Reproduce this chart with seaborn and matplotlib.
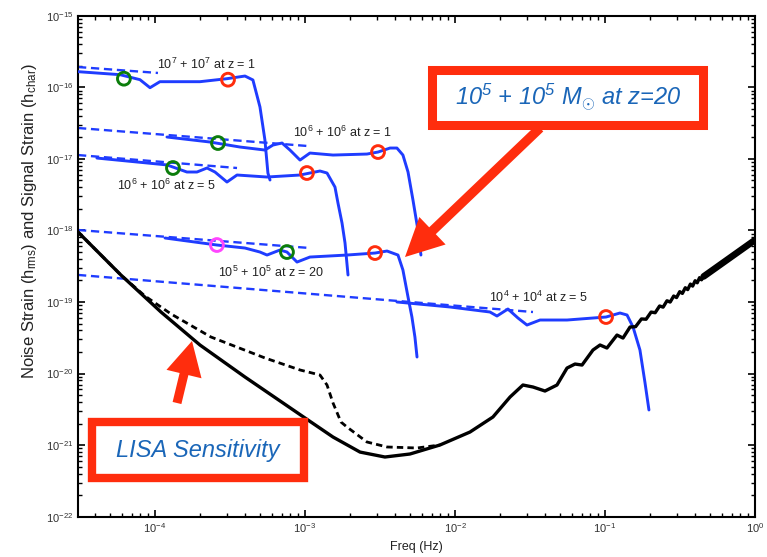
import numpy as np
import matplotlib
matplotlib.use("Agg")
import matplotlib.pyplot as plt
import seaborn as sns
from matplotlib.patches import Rectangle, FancyArrow

# ---------------- data (log10 of frequency [Hz] and strain) ----------------
# LISA sensitivity (solid black)
lisa_logf = [-4.513, -4.227, -3.96, -3.70, -3.40, -2.98, -2.813, -2.633, -2.467, -2.30,
             -2.10, -1.90, -1.747, -1.633, -1.547, -1.48, -1.40, -1.32, -1.253, -1.20,
             -1.153, -1.08, -1.033, -0.987, -0.92, -0.88, -0.833, -0.796, -0.757, -0.726,
             -0.6925, -0.6655, -0.636, -0.6126, -0.5867, -0.5654, -0.5421, -0.5229,
             -0.5017, -0.4841, -0.4647, -0.4486, -0.4306, -0.4157, -0.399, -0.385,
             -0.3696, -0.3565, -0.342]
lisa_logh = [-18.022, -18.623, -19.140, -19.601, -20.048, -20.649, -20.887, -21.097, -21.166, -21.124,
             -20.998, -20.817, -20.607, -20.328, -20.160, -20.188, -20.244, -20.160, -19.923, -19.867,
             -19.881, -19.671, -19.601, -19.643, -19.462, -19.504, -19.350, -19.345, -19.237, -19.241,
             -19.141, -19.150, -19.056, -19.072, -18.983, -19.001, -18.917, -18.938,
             -18.856, -18.880, -18.801, -18.827, -18.750, -18.778, -18.703, -18.732,
             -18.660, -18.690, -18.643]
# dense high-frequency part of the LISA curve
lisa_band_logf = [-0.342, 0.0]
lisa_band_logh = [-18.643, -18.134]

# LISA sensitivity variant (dashed black)
lisa2_logf = [-4.513, -4.227, -4.067, -3.893, -3.627, -3.267, -3.033, -2.90, -2.853, -2.813,
              -2.76, -2.72, -2.587, -2.453, -2.253, -2.10]
lisa2_logh = [-18.022, -18.623, -18.916, -19.167, -19.489, -19.782, -19.950, -20.020, -20.160, -20.411,
              -20.677, -20.747, -20.956, -21.026, -21.040, -20.998]

# 1e7 + 1e7 at z = 1
s7z1_logf = [-4.513, -4.233, -4.10, -4.033, -3.967, -3.70, -3.52, -3.40, -3.347, -3.30, -3.267, -3.247, -3.233]
s7z1_logh = [-15.782, -15.824, -15.894, -16.006, -15.922, -15.922, -15.880, -15.843, -15.898, -16.275, -16.736, -17.198, -17.296]
d7z1_logf = [-4.513, -3.98]
d7z1_logh = [-15.717, -15.80]

# 1e6 + 1e6 at z = 1
s6z1_logf = [-3.92, -3.633, -3.433, -3.267, -3.213, -3.153, -3.10, -3.033, -2.967, -2.813,
             -2.587, -2.513, -2.433, -2.387, -2.347, -2.313, -2.28, -2.247, -2.227]
s6z1_logh = [-16.695, -16.765, -16.835, -16.877, -16.807, -16.779, -16.877, -17.017, -16.919, -16.947,
             -16.933, -16.905, -16.849, -16.849, -16.947, -17.184, -17.576, -17.995, -18.344]
d6z1_logf = [-4.513, -2.98]
d6z1_logh = [-16.569, -16.821]

# 1e6 + 1e6 at z = 5
s6z5_logf = [-4.387, -3.92, -3.787, -3.72, -3.653, -3.60, -3.52, -3.453, -3.253, -3.033,
             -2.90, -2.853, -2.80, -2.78, -2.753, -2.733, -2.713]
s6z5_logh = [-16.989, -17.085, -17.184, -17.184, -17.128, -17.184, -17.324, -17.226, -17.254, -17.226,
             -17.170, -17.198, -17.394, -17.617, -17.897, -18.176, -18.623]
d6z5_logf = [-4.513, -3.453]
d6z5_logh = [-16.947, -17.128]

# 1e5 + 1e5 at z = 20
s5z20_logf = [-3.933, -3.587, -3.40, -3.30, -3.253, -3.167, -3.12, -3.053, -2.967, -2.72,
              -2.533, -2.453, -2.38, -2.347, -2.313, -2.287, -2.267, -2.253]
s5z20_logh = [-18.106, -18.204, -18.246, -18.302, -18.344, -18.274, -18.302, -18.442, -18.372, -18.344,
              -18.316, -18.288, -18.344, -18.553, -18.931, -19.210, -19.490, -19.769]
d5z20_logf = [-4.513, -2.967]
d5z20_logh = [-17.994, -18.246]

# 1e4 + 1e4 at z = 5
s4z5_logf = [-2.387, -2.033, -1.767, -1.72, -1.647, -1.58, -1.52, -1.433, -1.253, -1.08,
             -0.993, -0.90, -0.853, -0.813, -0.767, -0.733, -0.707]
s4z5_logh = [-19.000, -19.070, -19.140, -19.196, -19.098, -19.224, -19.322, -19.252, -19.252, -19.224,
             -19.210, -19.154, -19.182, -19.350, -19.671, -20.132, -20.509]
d4z5_logf = [-4.513, -1.48]
d4z5_logh = [-18.622, -19.14]

# circle markers
red_logf = [-3.513, -2.513, -2.987, -2.533, -0.993]
red_logh = [-15.894, -16.905, -17.198, -18.316, -19.210]
green_logf = [-4.207, -3.58, -3.88, -3.12]
green_logh = [-15.880, -16.779, -17.128, -18.302]
magenta_logf = [-3.587]
magenta_logh = [-18.204]

# curve labels: (text, log10 f, log10 h)
label_text = [r"10$^{\mathdefault{7}}$ + 10$^{\mathdefault{7}}$ at z = 1",
              r"10$^{\mathdefault{6}}$ + 10$^{\mathdefault{6}}$ at z = 1",
              r"10$^{\mathdefault{6}}$ + 10$^{\mathdefault{6}}$ at z = 5",
              r"10$^{\mathdefault{5}}$ + 10$^{\mathdefault{5}}$ at z = 20",
              r"10$^{\mathdefault{4}}$ + 10$^{\mathdefault{4}}$ at z = 5"]
label_logf = [-3.987, -3.08, -4.253, -3.58, -1.773]
label_logh = [-15.675, -16.625, -17.365, -18.582, -18.931]

# axis ticks
xtick_exp = [-4, -3, -2, -1, 0]
ytick_exp = [-22, -21, -20, -19, -18, -17, -16, -15]

# ---------------- style ----------------
sns.set_theme(style="ticks")
plt.rcParams["font.family"] = ["Liberation Sans", "DejaVu Sans"]
plt.rcParams["mathtext.fontset"] = "custom"
plt.rcParams["mathtext.rm"] = "Liberation Sans"
plt.rcParams["mathtext.it"] = "Liberation Sans:italic"
plt.rcParams["mathtext.bf"] = "Liberation Sans:bold"

BLUE = "#1f3cff"
RED = "#ff2d0d"
GREEN = "#0b7d0b"
MAGENTA = "#ff45ff"
TXTBLUE = "#1a66b8"

W, H = 767, 557
fig = plt.figure(figsize=(W / 100, H / 100), dpi=100)
fig.patch.set_facecolor("white")
ax = fig.add_axes([78 / W, 1 - 516.7 / H, (755 - 78) / W, (516.7 - 15.7) / H])
ax.set_facecolor("white")
ax.set_xscale("log")
ax.set_yscale("log")


def p(v):
    return 10.0 ** np.asarray(v, dtype=float)


def line(lf, lh, color, lw, ls="-", z=2):
    sns.lineplot(x=p(lf), y=p(lh), sort=False, estimator=None, color=color,
                 lw=lw, linestyle=ls, ax=ax, zorder=z)


dash_blue = (0, (3.5, 2.0))
# dashed signal extrapolations
for lf, lh in [(d7z1_logf, d7z1_logh), (d6z1_logf, d6z1_logh), (d6z5_logf, d6z5_logh),
               (d5z20_logf, d5z20_logh), (d4z5_logf, d4z5_logh)]:
    line(lf, lh, BLUE, 1.7, dash_blue, z=2)
# solid signal curves
for lf, lh in [(s7z1_logf, s7z1_logh), (s6z1_logf, s6z1_logh), (s6z5_logf, s6z5_logh),
               (s5z20_logf, s5z20_logh), (s4z5_logf, s4z5_logh)]:
    line(lf, lh, BLUE, 2.1, "-", z=3)

# LISA curves
line(lisa2_logf, lisa2_logh, "black", 2.0, (0, (2.3, 1.5)), z=4)
line(lisa_logf, lisa_logh, "black", 2.4, "-", z=4)
line(lisa_band_logf, lisa_band_logh, "black", 4.8, "-", z=4)

# circles
for lf, lh, c in [(red_logf, red_logh, RED), (green_logf, green_logh, GREEN),
                  (magenta_logf, magenta_logh, MAGENTA)]:
    sns.scatterplot(x=p(lf), y=p(lh), s=85, marker="o", facecolor="none",
                    edgecolor=c, linewidth=2.1, ax=ax, zorder=6)

# curve labels
for t, lf, lh in zip(label_text, label_logf, label_logh):
    ax.text(10 ** lf, 10 ** lh, t, fontsize=9, color="#222222", ha="left", va="center", zorder=7)

ax.set_xticks(p(xtick_exp))
ax.set_yticks(p(ytick_exp))
ax.xaxis.set_major_formatter(matplotlib.ticker.LogFormatterSciNotation())
ax.yaxis.set_major_formatter(matplotlib.ticker.LogFormatterSciNotation())
ax.xaxis.set_minor_locator(matplotlib.ticker.LogLocator(base=10, subs=np.arange(2, 10), numticks=100))
ax.yaxis.set_minor_locator(matplotlib.ticker.LogLocator(base=10, subs=np.arange(2, 10), numticks=100))
ax.xaxis.set_minor_formatter(matplotlib.ticker.NullFormatter())
ax.yaxis.set_minor_formatter(matplotlib.ticker.NullFormatter())
ax.set_xlim(10 ** -4.513, 1.0)
ax.set_ylim(1e-22, 1e-15)

ax.tick_params(which="both", direction="in", top=True, right=True, colors="black",
               labelcolor="#333333", labelsize=8)
ax.tick_params(which="major", length=5, width=1.2)
ax.tick_params(which="minor", length=3, width=1.0)
for s in ax.spines.values():
    s.set_linewidth(1.5)
    s.set_color("black")

ax.set_xlabel("Freq (Hz)", fontsize=9, color="#222222", labelpad=4)
ax.set_ylabel(r"Noise Strain (h$_{\mathdefault{rms}}$) and Signal Strain (h$_{\mathdefault{char}}$)",
              fontsize=12, color="#222222")
ax.yaxis.set_label_coords(-0.058, 0.59)

# ---------------- annotations (in pixel units converted to inches) ----------------
tr = fig.dpi_scale_trans


def pix(x, y):
    return x / 100.0, (H - y) / 100.0


# big box
bx0, by0 = pix(431.5, 124.5)
bx1, by1 = pix(702.5, 69.5)
fig.add_artist(Rectangle((bx0, by0), bx1 - bx0, by1 - by0, transform=tr, facecolor="white",
                         edgecolor=RED, lw=6.5, zorder=10))
tx, ty = pix(568, 97)
fig.text(tx / (W / 100), ty / (H / 100),
         r"$\mathdefault{10^5}$ + $\mathdefault{10^5}$ M$_{\odot}$ at z=20",
         fontsize=17, style="italic", color=TXTBLUE, ha="center", va="center", zorder=11)

# arrow from big box to curve
ax0, ay0 = pix(540, 128)
ax1, ay1 = pix(405, 257)
fig.add_artist(FancyArrow(ax0, ay0, ax1 - ax0, ay1 - ay0, width=0.095, head_width=0.38,
                          head_length=0.38, length_includes_head=True, transform=tr,
                          color=RED, lw=0, zorder=10))

# LISA box
lx0, ly0 = pix(92, 478)
lx1, ly1 = pix(304, 422)
fig.add_artist(Rectangle((lx0, ly0), lx1 - lx0, ly1 - ly0, transform=tr, facecolor="white",
                         edgecolor=RED, lw=6.0, zorder=10))
tx, ty = pix(198, 451)
fig.text(tx / (W / 100), ty / (H / 100), "LISA Sensitivity", fontsize=17, style="italic",
         color=TXTBLUE, ha="center", va="center", zorder=11)

# arrow from LISA box to curve
sx0, sy0 = pix(177, 403)
sx1, sy1 = pix(192, 341)
fig.add_artist(FancyArrow(sx0, sy0, sx1 - sx0, sy1 - sy0, width=0.09, head_width=0.36,
                          head_length=0.34, length_includes_head=True, transform=tr,
                          color=RED, lw=0, zorder=10))

fig.savefig("out.png", dpi=100, facecolor="white")
